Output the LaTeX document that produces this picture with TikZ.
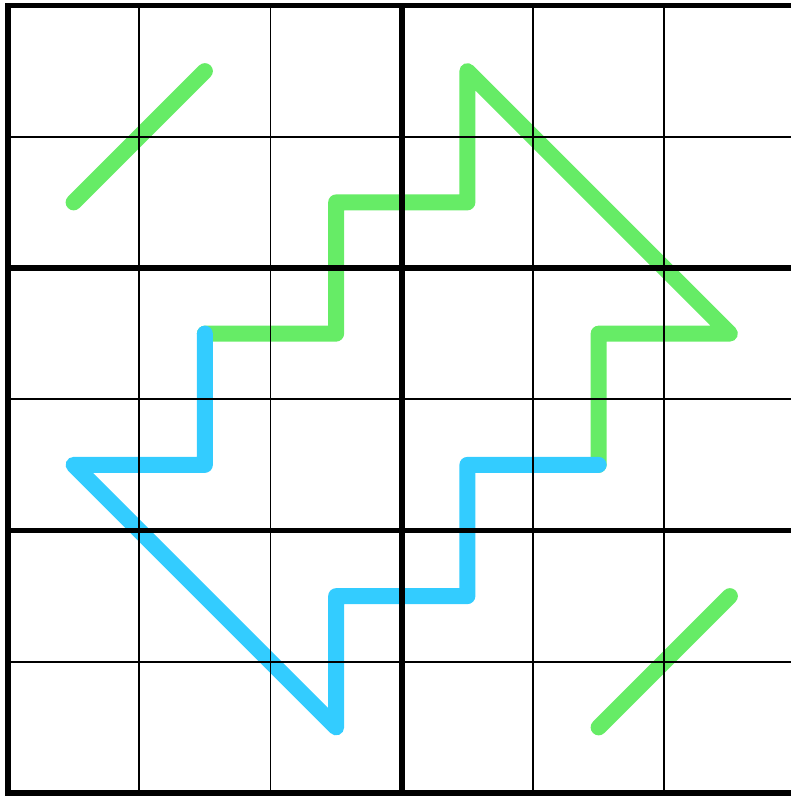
\documentclass[tikz,border=0pt]{standalone}
\definecolor{lgreen}{RGB}{102,236,102}
\definecolor{lblue}{RGB}{51,204,255}
\tikzset{
  colline/.style={line width=16pt, line cap=round, line join=round},
  greenline/.style={colline, draw=lgreen},
  blueline/.style={colline, draw=lblue},
  thingrid/.style={line width=1.8pt, draw=black},
  thickgrid/.style={line width=5.5pt, draw=black, line cap=rect}
}
\begin{document}
\begin{tikzpicture}[x=1pt,y=-1pt]
\useasboundingbox (-8,-5.5) rectangle (783,790.5);
\clip (-8,-5.5) rectangle (783,790.5);
\begin{scope}[x=131.25pt,y=-131.25pt]
  % green paths
  \draw[greenline] (0.5,1.5) -- (1.5,0.5);
  \draw[greenline] (1.5,2.5) -- (2.5,2.5) -- (2.5,1.5) -- (3.5,1.5) -- (3.5,0.5)
        -- (5.5,2.5) -- (4.5,2.5) -- (4.5,3.5);
  \draw[greenline] (4.5,5.5) -- (5.5,4.5);
  % blue path
  \draw[blueline] (4.5,3.5) -- (3.5,3.5) -- (3.5,4.5) -- (2.5,4.5) -- (2.5,5.5)
        -- (0.5,3.5) -- (1.5,3.5) -- (1.5,2.5);
  % thin grid
  \foreach \i in {1,2,4,5} {
    \draw[thingrid] (\i,0) -- (\i,6);
  }
  \foreach \i in {1,3,5} {
    \draw[thingrid] (0,\i) -- (6,\i);
  }
  % thick grid
  \draw[thickgrid] (0,0) rectangle (6,6);
  \draw[thickgrid] (3,0) -- (3,6);
  \foreach \i in {2,4} {
    \draw[thickgrid] (0,\i) -- (6,\i);
  }
\end{scope}
\end{tikzpicture}
\end{document}
